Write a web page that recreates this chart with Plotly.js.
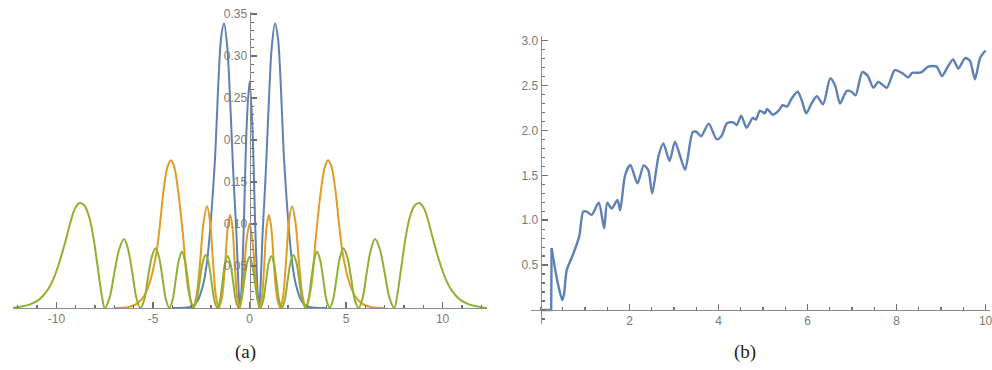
<!DOCTYPE html>
<html>
<head>
<meta charset="utf-8">
<script src="https://cdn.plot.ly/plotly-3.0.1.min.js"></script>
<style>html,body{margin:0;padding:0;background:#fff;}#chart{width:992px;height:370px;}</style>
</head>
<body>
<div id="chart"></div>
<script>
// ---------- Panel (a) data ----------
const aBlueX = [-4, -3.0, -2.7, -2.4, -2.22, -2.07, -1.92, -1.77, -1.62, -1.47, -1.32, -1.15, -1.0, -0.86, -0.76, -0.67, -0.58, -0.5, -0.42, -0.3, -0.15, 0, 0.15, 0.3, 0.42, 0.5, 0.58, 0.67, 0.76, 0.86, 1.0, 1.15, 1.32, 1.47, 1.62, 1.77, 1.92, 2.07, 2.22, 2.4, 2.7, 3.0, 4];
const aBlueY = [0, 0.002, 0.008, 0.028, 0.052, 0.085, 0.13, 0.185, 0.265, 0.322, 0.339, 0.31, 0.245, 0.17, 0.125, 0.085, 0.03, 0, 0.02, 0.095, 0.215, 0.27, 0.215, 0.095, 0.02, 0, 0.03, 0.085, 0.125, 0.17, 0.245, 0.31, 0.339, 0.322, 0.265, 0.185, 0.13, 0.085, 0.052, 0.028, 0.008, 0.002, 0];

const aOrangeX = [-7.0, -6.3, -5.85, -5.5, -5.2, -5.0, -4.8, -4.65, -4.45, -4.25, -4.07, -3.9, -3.7, -3.45, -3.2, -2.94, -2.75, -2.56, -2.38, -2.2, -2.04, -1.89, -1.74, -1.59, -1.43, -1.27, -1.13, -1.0, -0.88, -0.76, -0.64, -0.52, -0.42, -0.3, -0.15, 0, 0.15, 0.3, 0.42, 0.52, 0.64, 0.76, 0.88, 1.0, 1.13, 1.27, 1.43, 1.59, 1.74, 1.89, 2.04, 2.2, 2.38, 2.56, 2.75, 2.94, 3.2, 3.45, 3.7, 3.9, 4.07, 4.25, 4.45, 4.65, 4.8, 5.0, 5.2, 5.5, 5.85, 6.3, 7.0];
const aOrangeY = [0, 0.001, 0.005, 0.013, 0.028, 0.045, 0.069, 0.097, 0.14, 0.168, 0.176, 0.168, 0.14, 0.088, 0.026, 0, 0.014, 0.055, 0.102, 0.121, 0.102, 0.055, 0.014, 0, 0.012, 0.05, 0.095, 0.111, 0.095, 0.05, 0.012, 0, 0.009, 0.038, 0.081, 0.10, 0.081, 0.038, 0.009, 0, 0.012, 0.05, 0.095, 0.111, 0.095, 0.05, 0.012, 0, 0.014, 0.055, 0.102, 0.121, 0.102, 0.055, 0.014, 0, 0.026, 0.088, 0.14, 0.168, 0.176, 0.168, 0.14, 0.097, 0.069, 0.045, 0.028, 0.013, 0.005, 0.001, 0];

const aGreenX = [-12.3, -12.0, -11.4, -10.9, -10.5, -10.15, -9.84, -9.55, -9.3, -9.05, -8.8, -8.55, -8.3, -8.1, -7.87, -7.65, -7.5, -7.25, -7.0, -6.75, -6.5, -6.29, -6.07, -5.86, -5.65, -5.45, -5.26, -5.06, -4.87, -4.69, -4.51, -4.33, -4.15, -3.98, -3.82, -3.66, -3.5, -3.35, -3.2, -3.05, -2.9, -2.74, -2.58, -2.43, -2.27, -2.12, -1.97, -1.82, -1.67, -1.53, -1.4, -1.27, -1.13, -0.99, -0.85, -0.71, -0.57, -0.42, -0.28, -0.14, 0, 0.14, 0.28, 0.42, 0.57, 0.71, 0.85, 0.99, 1.13, 1.27, 1.4, 1.53, 1.67, 1.82, 1.97, 2.12, 2.27, 2.43, 2.58, 2.74, 2.9, 3.05, 3.2, 3.35, 3.5, 3.66, 3.82, 3.98, 4.15, 4.33, 4.51, 4.69, 4.87, 5.06, 5.26, 5.45, 5.65, 5.86, 6.07, 6.29, 6.5, 6.75, 7.0, 7.25, 7.5, 7.65, 7.87, 8.1, 8.3, 8.55, 8.8, 9.05, 9.3, 9.55, 9.84, 10.15, 10.5, 10.9, 11.4, 12.0, 12.3];
const aGreenY = [0, 0.001, 0.004, 0.01, 0.02, 0.035, 0.055, 0.078, 0.1, 0.118, 0.125, 0.122, 0.108, 0.086, 0.05, 0.015, 0, 0.012, 0.042, 0.07, 0.082, 0.07, 0.042, 0.012, 0, 0.01, 0.036, 0.061, 0.071, 0.061, 0.036, 0.01, 0, 0.01, 0.034, 0.057, 0.067, 0.057, 0.034, 0.01, 0, 0.009, 0.032, 0.054, 0.063, 0.054, 0.032, 0.009, 0, 0.009, 0.031, 0.053, 0.062, 0.053, 0.031, 0.009, 0, 0.01, 0.031, 0.052, 0.061, 0.052, 0.031, 0.01, 0, 0.009, 0.031, 0.053, 0.062, 0.053, 0.031, 0.009, 0, 0.009, 0.032, 0.054, 0.063, 0.054, 0.032, 0.009, 0, 0.01, 0.034, 0.057, 0.067, 0.057, 0.034, 0.01, 0, 0.01, 0.036, 0.061, 0.071, 0.061, 0.036, 0.01, 0, 0.012, 0.042, 0.07, 0.082, 0.07, 0.042, 0.012, 0, 0.015, 0.05, 0.086, 0.108, 0.122, 0.125, 0.118, 0.1, 0.078, 0.055, 0.035, 0.02, 0.01, 0.004, 0.001, 0];

const aXTickVals = [-10, -5, 0, 5, 10];
const aXTickText = ['-10', '-5', '0', '5', '10'];
const aYTickVals = [0.05, 0.10, 0.15, 0.20, 0.25, 0.30, 0.35];
const aYTickText = ['0.05', '0.10', '0.15', '0.20', '0.25', '0.30', '0.35'];

// ---------- Panel (b) data ----------
const bX = [0.02, 0.24, 0.25, 0.36, 0.44, 0.49, 0.53, 0.59, 0.74, 0.87, 0.96, 1.04, 1.15, 1.31, 1.43, 1.50, 1.60, 1.73, 1.79, 1.90, 2.02, 2.18, 2.32, 2.42, 2.51, 2.65, 2.76, 2.90, 3.02, 3.13, 3.25, 3.42, 3.50, 3.61, 3.78, 3.96, 4.07, 4.19, 4.33, 4.41, 4.51, 4.63, 4.77, 4.84, 4.93, 5.04, 5.09, 5.22, 5.35, 5.44, 5.54, 5.65, 5.78, 5.88, 5.97, 6.09, 6.21, 6.35, 6.51, 6.62, 6.73, 6.88, 6.99, 7.08, 7.23, 7.35, 7.48, 7.59, 7.78, 7.96, 8.12, 8.27, 8.35, 8.55, 8.71, 8.90, 9.02, 9.13, 9.27, 9.39, 9.54, 9.65, 9.76, 9.88, 10.0];
const bY = [0, 0, 0.69, 0.37, 0.19, 0.11, 0.18, 0.445, 0.63, 0.82, 1.095, 1.095, 1.06, 1.195, 0.91, 1.195, 1.13, 1.225, 1.11, 1.50, 1.615, 1.41, 1.61, 1.56, 1.30, 1.71, 1.856, 1.66, 1.875, 1.726, 1.56, 1.98, 1.985, 1.935, 2.075, 1.90, 1.94, 2.08, 2.09, 2.06, 2.165, 2.03, 2.14, 2.12, 2.22, 2.19, 2.24, 2.175, 2.22, 2.28, 2.265, 2.36, 2.43, 2.32, 2.19, 2.30, 2.38, 2.29, 2.58, 2.50, 2.30, 2.44, 2.43, 2.39, 2.65, 2.61, 2.475, 2.54, 2.475, 2.67, 2.64, 2.59, 2.64, 2.645, 2.71, 2.71, 2.605, 2.69, 2.79, 2.69, 2.805, 2.775, 2.57, 2.81, 2.89];
const bJump = 2;

const bXTickVals = [2, 4, 6, 8, 10];
const bXTickText = ['2', '4', '6', '8', '10'];
const bYTickVals = [0.5, 1.0, 1.5, 2.0, 2.5, 3.0];
const bYTickText = ['0.5', '1.0', '1.5', '2.0', '2.5', '3.0'];

// ---------- styling ----------
const W = 992, H = 370;
const axisColor = '#8c8c8c';
const tickColor = '#6f6f6f';
const tickFont = {family: 'Liberation Sans, Arial, sans-serif', size: 12, color: '#7a7a7a'};
const blue = '#5E81B5', orange = '#E19C24', green = '#8FB032';

const traces = [
  {x: aBlueX, y: aBlueY, xaxis: 'x', yaxis: 'y', type: 'scatter', mode: 'lines',
   line: {color: blue, width: 2, shape: 'spline', smoothing: 0.9}},
  {x: aOrangeX, y: aOrangeY, xaxis: 'x', yaxis: 'y', type: 'scatter', mode: 'lines',
   line: {color: orange, width: 2, shape: 'spline', smoothing: 0.9}},
  {x: aGreenX, y: aGreenY, xaxis: 'x', yaxis: 'y', type: 'scatter', mode: 'lines',
   line: {color: green, width: 2, shape: 'spline', smoothing: 0.9}},
  {x: bX.slice(0, bJump + 1), y: bY.slice(0, bJump + 1), xaxis: 'x2', yaxis: 'y2', type: 'scatter', mode: 'lines',
   line: {color: blue, width: 2.4, shape: 'linear'}},
  {x: bX.slice(bJump), y: bY.slice(bJump), xaxis: 'x2', yaxis: 'y2', type: 'scatter', mode: 'lines',
   line: {color: blue, width: 2.4, shape: 'spline', smoothing: 0.7}}
];

function minorTicks(step) {
  return {tick0: 0, dtick: step, ticks: 'inside', ticklen: 3.5, tickwidth: 1.3, tickcolor: tickColor, showgrid: false};
}

function ax(extra) {
  return Object.assign({
    showgrid: false, zeroline: false, showline: true, linecolor: axisColor, linewidth: 1,
    ticks: 'inside', ticklen: 6, tickwidth: 1.5, tickcolor: tickColor,
    tickfont: tickFont, tickmode: 'array', ticklabeloverflow: 'allow'
  }, extra);
}

const layout = {
  width: W, height: H,
  margin: {l: 0, r: 0, t: 0, b: 0},
  paper_bgcolor: '#ffffff', plot_bgcolor: 'rgba(0,0,0,0)',
  showlegend: false,
  xaxis: ax({domain: [13 / W, 487 / W], range: [-12.25, 12.3], anchor: 'y',
    tickvals: aXTickVals, ticktext: aXTickText, minor: minorTicks(1)}),
  yaxis: ax({domain: [1 - 308 / H, 1 - 12.3 / H], range: [0, 0.352], anchor: 'free', position: 249.5 / W,
    tickvals: aYTickVals, ticktext: aYTickText, minor: minorTicks(0.01)}),
  xaxis2: ax({domain: [530.7 / W, 990 / W], range: [-0.22, 10.1], anchor: 'free', position: 1 - 310 / H,
    tickvals: bXTickVals, ticktext: bXTickText, minor: minorTicks(0.5)}),
  yaxis2: ax({domain: [1 - 323.5 / H, 1 - 36.1 / H], range: [-0.15, 3.05], anchor: 'free', position: 540.5 / W,
    tickvals: bYTickVals, ticktext: bYTickText, minor: minorTicks(0.1)}),
  annotations: [
    {text: '(a)', xref: 'paper', yref: 'paper', x: 245 / W, y: 1 - 352 / H, xanchor: 'center', yanchor: 'middle',
     showarrow: false, font: {family: 'Liberation Serif, DejaVu Serif, serif', size: 19, color: '#222222'}},
    {text: '(b)', xref: 'paper', yref: 'paper', x: 745 / W, y: 1 - 352 / H, xanchor: 'center', yanchor: 'middle',
     showarrow: false, font: {family: 'Liberation Serif, DejaVu Serif, serif', size: 19, color: '#222222'}}
  ]
};

Plotly.newPlot('chart', traces, layout, {staticPlot: true, displayModeBar: false});
</script>
</body>
</html>
